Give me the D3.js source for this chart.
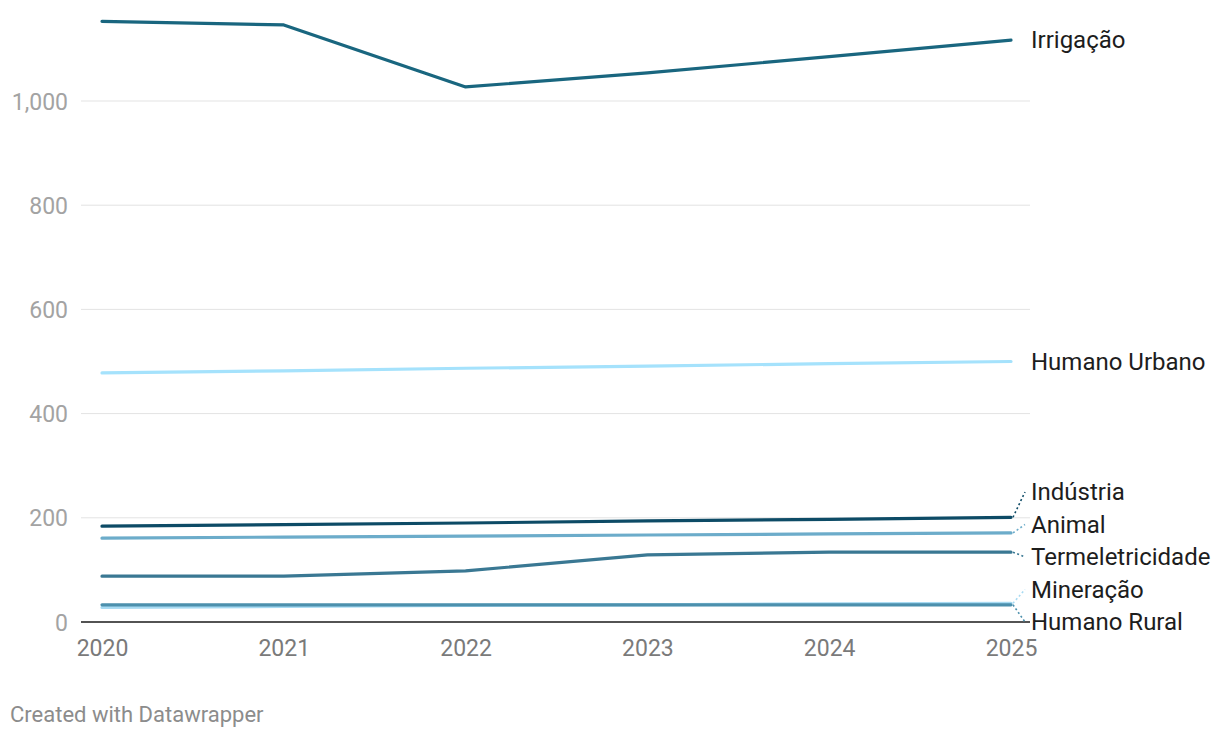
<!DOCTYPE html>
<html>
<head>
<meta charset="utf-8">
<script src="https://cdn.jsdelivr.net/npm/d3@7"></script>
<style>
  html, body { margin: 0; padding: 0; background: #fff; }
  svg { display: block; font-family: Roboto, "Noto Sans", sans-serif; }
</style>
</head>
<body>
<svg id="chart" width="1220" height="738"></svg>
<script>
const years = [2020, 2021, 2022, 2023, 2024, 2025];
const yTicks = [0, 200, 400, 600, 800, 1000];

const irrigacao        = [1153, 1146, 1027, 1054, 1085, 1117];
const humanoUrbano     = [478, 482, 487, 491, 496, 500];
const industria        = [184, 187, 190, 194, 197, 201];
const animal           = [161, 163, 165, 167, 169, 171];
const termeletricidade = [88, 88, 98, 129, 134, 134];
const mineracao        = [28, 30, 32, 33, 35, 36];
const humanoRural      = [33, 33, 33, 33, 33, 33];

const seriesNames  = ["Irrigação", "Humano Urbano", "Indústria", "Animal", "Termeletricidade", "Mineração", "Humano Rural"];
const seriesValues = [irrigacao, humanoUrbano, industria, animal, termeletricidade, mineracao, humanoRural];
const seriesColors = ["#19667f", "#a5e2fc", "#0d4b66", "#6cacca", "#3a7893", "#a7daf2", "#4c90ad"];

const series = seriesNames.map((name, i) => ({
  name, color: seriesColors[i],
  values: years.map((yr, j) => ({ year: yr, value: seriesValues[i][j] }))
}));

const svg = d3.select("#chart");
const x = d3.scaleLinear().domain([2020, 2025]).range([102, 1011]);
const y = d3.scaleLinear().domain([0, 1000]).range([622, 101]);
const gridLeft = 81, gridRight = 1030;

// y axis labels
const yAxis = d3.axisLeft(y).tickValues(yTicks).tickSize(0).tickPadding(0)
  .tickFormat(d3.format(","));
const yg = svg.append("g").attr("transform", `translate(${68},0)`).call(yAxis);
yg.select(".domain").remove();
yg.selectAll("text").attr("font-size", 23).attr("fill", "#a3a3a3")
  .attr("font-family", "Roboto, sans-serif").attr("dy", "0.35em").attr("x", 0);

// gridlines
svg.append("g").selectAll("line").data(yTicks.filter(d => d !== 0)).join("line")
  .attr("x1", gridLeft).attr("x2", gridRight)
  .attr("y1", d => y(d)).attr("y2", d => y(d))
  .attr("stroke", "#e3e3e3").attr("stroke-width", 1);

// x axis
const xAxis = d3.axisBottom(x).tickValues(years).tickSize(0).tickPadding(0).tickFormat(d3.format("d"));
const xg = svg.append("g").attr("transform", `translate(0,${y(0)})`).call(xAxis);
xg.select(".domain").remove();
xg.selectAll("text").attr("font-size", 23).attr("fill", "#7a7a7a")
  .attr("font-family", "Roboto, sans-serif").attr("y", 34).attr("dy", 0);

// lines
const line = d3.line().x(d => x(d.year)).y(d => y(d.value));
svg.append("g").selectAll("path").data(series).join("path")
  .attr("d", d => line(d.values))
  .attr("fill", "none").attr("stroke", d => d.color)
  .attr("stroke-width", 3.2).attr("stroke-linejoin", "round").attr("stroke-linecap", "round");

// baseline
svg.append("line").attr("x1", gridLeft).attr("x2", gridRight)
  .attr("y1", y(0)).attr("y2", y(0)).attr("stroke", "#1a1a1a").attr("stroke-width", 1.6);

// label placement (cluster-based collision avoidance)
const gap = 32.5, maxY = y(0);
let labels = series.map(s => ({ s, target: y(s.values[s.values.length - 1].value) }))
  .sort((a, b) => a.target - b.target);
let clusters = labels.map(l => ({ items: [l], center: l.target }));
function layout(c) {
  const n = c.items.length;
  let start = c.center - (n - 1) * gap / 2;
  if (start + (n - 1) * gap > maxY) start = maxY - (n - 1) * gap;
  c.start = start;
}
clusters.forEach(layout);
let merged = true;
while (merged) {
  merged = false;
  for (let i = 0; i < clusters.length - 1; i++) {
    const a = clusters[i], b = clusters[i + 1];
    if (a.start + (a.items.length - 1) * gap + gap > b.start) {
      const items = a.items.concat(b.items);
      const c = { items, center: d3.mean(items, d => d.target) };
      layout(c);
      clusters.splice(i, 2, c);
      merged = true;
      break;
    }
  }
}
clusters.forEach(c => c.items.forEach((it, k) => it.ly = c.start + k * gap));

const lg = svg.append("g");
labels.forEach(l => {
  const x0 = x(2025);
  if (Math.abs(l.ly - l.target) > 3) {
    lg.append("line").attr("x1", x0 + 2).attr("y1", l.target)
      .attr("x2", x0 + 14).attr("y2", l.ly)
      .attr("stroke", l.s.color).attr("stroke-width", 1.6).attr("stroke-dasharray", "2,2.5");
  }
  lg.append("text").attr("x", 1031).attr("y", l.ly).attr("dy", "0.35em")
    .attr("font-size", 24).attr("fill", "#1d1d1d").text(l.s.name);
});

// footer
svg.append("text").attr("x", 10).attr("y", 722).attr("font-size", 22)
  .attr("fill", "#8c8c8c").text("Created with Datawrapper");
</script>
</body>
</html>
